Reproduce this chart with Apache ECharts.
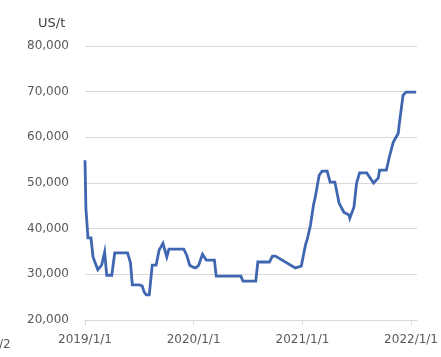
<!DOCTYPE html>
<html>
<head>
<meta charset="utf-8">
<script src="https://cdn.jsdelivr.net/npm/echarts@6/dist/echarts.min.js"></script>
<style>
  html, body { margin: 0; padding: 0; background: #fff; }
  #chart { width: 441px; height: 357px; }
</style>
</head>
<body>
<div id="chart"></div>
<script>
/* price data */
const dates = [
  '2019-01-01', '2019-01-04', '2019-01-08', '2019-01-11', '2019-01-21',
  '2019-01-28', '2019-02-13', '2019-02-26', '2019-03-08', '2019-03-15',
  '2019-04-01', '2019-04-11', '2019-05-24', '2019-06-03', '2019-06-09',
  '2019-07-02', '2019-07-06', '2019-07-12', '2019-07-19', '2019-07-26',
  '2019-08-05', '2019-08-15', '2019-08-28', '2019-09-07', '2019-09-20',
  '2019-10-03', '2019-10-10', '2019-11-29', '2019-12-09', '2019-12-19',
  '2020-01-01', '2020-01-08', '2020-01-18', '2020-01-31', '2020-02-13',
  '2020-03-11', '2020-03-17', '2020-06-08', '2020-06-15', '2020-07-28',
  '2020-08-04', '2020-09-12', '2020-09-22', '2020-10-02', '2020-12-08',
  '2020-12-14', '2020-12-28', '2021-01-01', '2021-01-11', '2021-01-18',
  '2021-01-28', '2021-02-07', '2021-02-13', '2021-02-26', '2021-03-08',
  '2021-03-25', '2021-04-04', '2021-04-20', '2021-05-04', '2021-05-20',
  '2021-06-06', '2021-06-09', '2021-06-23', '2021-07-02', '2021-07-12',
  '2021-08-05', '2021-08-28', '2021-09-13', '2021-09-17', '2021-10-10',
  '2021-10-20', '2021-11-02', '2021-11-19', '2021-11-22', '2021-12-05',
  '2021-12-15', '2022-01-18',
];
const prices = [
  55000, 44500, 44700, 38000, 38000,
  33800, 31000, 32000, 34900, 29800,
  29800, 34700, 34700, 32500, 27700,
  27700, 28000, 27500, 26100, 25500,
  25500, 32000, 32000, 35300, 36800,
  33800, 35500, 35500, 34200, 32000,
  31500, 31400, 32000, 34400, 33100,
  33100, 29600, 29600, 28500, 28500,
  32700, 32700, 34000, 34000, 31400,
  31800, 31800, 32000, 36400, 37900,
  40800, 45200, 46900, 51700, 52600,
  52600, 50200, 50200, 45600, 43600,
  43000, 42300, 44700, 50000, 52200,
  52200, 50000, 51100, 52800, 52800,
  55700, 58900, 60900, 62700, 69200,
  69900, 69900,
];
const xTicks = ['2019-01-01', '2020-01-01', '2021-01-01', '2022-01-01'];
const yMin = 20000;
const yMax = 80000;
const yStep = 10000;

const toTime = (d) => Date.UTC(+d.slice(0, 4), +d.slice(5, 7) - 1, +d.slice(8, 10));
const seriesData = dates.map((d, i) => [toTime(d), prices[i]]);
const tickTimes = xTicks.map(toTime);

const gray = '#595959';
const font = 'DejaVu Sans';

const chart = echarts.init(document.getElementById('chart'));
chart.setOption({
  animation: false,
  title: {
    text: 'US/t',
    left: 33,
    top: 12,
    textStyle: { fontFamily: font, fontSize: 13, fontWeight: 'normal', color: '#404040' },
  },
  graphic: [
    {
      type: 'text',
      left: -1,
      top: 339,
      style: { text: '/2', font: '12px "DejaVu Sans"', fill: gray },
    },
  ],
  grid: { left: 85, right: 20, top: 46, bottom: 37 },
  xAxis: {
    type: 'value',
    min: toTime('2019-01-01'),
    max: toTime('2022-01-21'),
    axisLine: { show: true, lineStyle: { color: '#d9d9d9' } },
    axisTick: {
      show: true,
      length: 5,
      lineStyle: { color: '#d9d9d9' },
      customValues: tickTimes,
    },
    splitLine: { show: false },
    axisLabel: {
      color: gray,
      fontFamily: font,
      fontSize: 12,
      margin: 14,
      customValues: tickTimes,
      formatter: (v) => {
        const d = new Date(v);
        return `${d.getUTCFullYear()}/${d.getUTCMonth() + 1}/${d.getUTCDate()}`;
      },
    },
  },
  yAxis: {
    type: 'value',
    min: yMin,
    max: yMax,
    interval: yStep,
    axisLine: { show: false },
    axisTick: { show: false },
    splitLine: { lineStyle: { color: '#d9d9d9', width: 1 } },
    axisLabel: {
      color: gray,
      fontFamily: font,
      fontSize: 12,
      margin: 16,
      formatter: (v) => v.toLocaleString('en-US'),
    },
  },
  series: [
    {
      type: 'line',
      data: seriesData,
      showSymbol: false,
      lineStyle: { color: '#3f67b1', width: 2.8, join: 'miter' },
      itemStyle: { color: '#3f67b1' },
    },
  ],
});
</script>
</body>
</html>
